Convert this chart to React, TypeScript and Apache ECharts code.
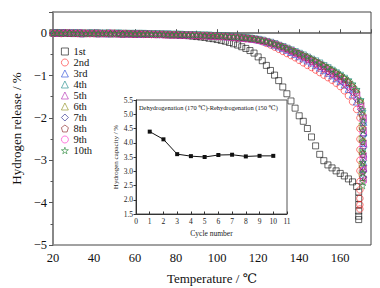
import React, { useEffect, useRef } from 'react';
import * as echarts from 'echarts';

const FONT = "'Liberation Serif', 'DejaVu Serif', serif";

const temps = [
  20, 22, 24, 26, 28, 30, 32, 34, 36, 38,
  40, 42, 44, 46, 48, 50, 52, 54, 56, 58,
  60, 62, 64, 66, 68, 70, 72, 74, 76, 78,
  80, 82, 84, 86, 88, 90, 92, 94, 96, 98,
  100, 102, 104, 106, 108, 110, 112, 114, 116, 118,
  120, 122, 124, 126, 128, 130, 132, 134, 136, 138,
  140, 142, 144, 146, 148, 150, 152, 154, 156, 158,
  160, 162, 164, 166, 168, 170,
];

const cycleNames = ['1st', '2nd', '3rd', '4th', '5th', '6th', '7th', '8th', '9th', '10th'];

const c1 = [
  0.01, 0.00, 0.01, 0.00, 0.00, -0.01, 0.00, 0.00, -0.01, 0.00,
  -0.01, 0.00, -0.01, -0.01, 0.00, -0.01, -0.01, -0.02, -0.01, -0.02,
  -0.02, -0.02, -0.02, -0.02, -0.03, -0.03, -0.03, -0.03, -0.04, -0.04,
  -0.04, -0.05, -0.05, -0.06, -0.07, -0.08, -0.09, -0.10, -0.12, -0.13,
  -0.15, -0.17, -0.19, -0.22, -0.25, -0.28, -0.32, -0.36, -0.41, -0.47,
  -0.56, -0.65, -0.76, -0.88, -0.99, -1.12, -1.27, -1.43, -1.60, -1.77,
  -1.95, -2.08, -2.25, -2.45, -2.66, -2.86, -3.01, -3.11, -3.18, -3.25,
  -3.31, -3.37, -3.44, -3.51, -3.62, null,
];
const c2 = [
  0.00, 0.00, -0.01, 0.00, 0.01, 0.00, -0.01, 0.00, 0.00, -0.01,
  -0.01, 0.00, -0.01, -0.01, -0.01, 0.00, -0.01, -0.02, -0.01, -0.02,
  -0.02, -0.01, -0.02, -0.02, -0.03, -0.02, -0.03, -0.03, -0.03, -0.04,
  -0.04, -0.04, -0.04, -0.05, -0.05, -0.05, -0.06, -0.06, -0.06, -0.07,
  -0.07, -0.08, -0.08, -0.09, -0.10, -0.11, -0.12, -0.13, -0.14, -0.15,
  -0.17, -0.20, -0.24, -0.28, -0.33, -0.38, -0.43, -0.48, -0.53, -0.58,
  -0.64, -0.70, -0.76, -0.81, -0.87, -0.93, -0.99, -1.05, -1.11, -1.18,
  -1.26, -1.36, -1.48, -1.62, -1.80, null,
];
const c3 = [
  0.01, 0.00, 0.00, 0.01, 0.00, 0.00, 0.00, -0.01, 0.00, 0.00,
  0.00, -0.01, 0.00, -0.01, -0.01, 0.00, -0.01, -0.01, -0.01, -0.01,
  -0.01, -0.02, -0.02, -0.01, -0.02, -0.02, -0.03, -0.02, -0.03, -0.03,
  -0.03, -0.04, -0.04, -0.04, -0.04, -0.05, -0.05, -0.05, -0.06, -0.06,
  -0.06, -0.07, -0.08, -0.08, -0.09, -0.10, -0.11, -0.12, -0.13, -0.14,
  -0.16, -0.18, -0.21, -0.24, -0.28, -0.32, -0.36, -0.40, -0.45, -0.50,
  -0.55, -0.60, -0.65, -0.70, -0.76, -0.82, -0.88, -0.94, -1.00, -1.07,
  -1.14, -1.22, -1.32, -1.45, -1.62, -1.85,
];
const c4 = [
  0.00, 0.01, 0.00, 0.00, 0.00, 0.01, 0.00, 0.00, -0.01, 0.00,
  0.00, 0.00, -0.01, 0.00, -0.01, -0.01, 0.00, -0.01, -0.01, -0.01,
  -0.01, -0.01, -0.01, -0.02, -0.02, -0.02, -0.02, -0.03, -0.02, -0.03,
  -0.03, -0.03, -0.04, -0.04, -0.04, -0.04, -0.05, -0.05, -0.05, -0.06,
  -0.06, -0.07, -0.07, -0.08, -0.09, -0.10, -0.10, -0.11, -0.12, -0.14,
  -0.15, -0.17, -0.20, -0.22, -0.25, -0.29, -0.32, -0.36, -0.40, -0.44,
  -0.48, -0.52, -0.57, -0.62, -0.66, -0.71, -0.77, -0.82, -0.88, -0.94,
  -1.00, -1.07, -1.15, -1.25, -1.38, -1.62,
];
const c5 = [
  0.00, 0.00, 0.01, 0.00, 0.00, 0.00, 0.01, 0.00, 0.00, -0.01,
  0.00, -0.01, -0.01, 0.00, -0.01, -0.01, -0.01, 0.00, -0.01, -0.02,
  -0.01, -0.02, -0.02, -0.02, -0.02, -0.03, -0.02, -0.03, -0.03, -0.03,
  -0.04, -0.04, -0.04, -0.04, -0.05, -0.05, -0.05, -0.06, -0.06, -0.06,
  -0.07, -0.07, -0.08, -0.09, -0.09, -0.10, -0.11, -0.12, -0.13, -0.14,
  -0.16, -0.18, -0.20, -0.23, -0.26, -0.30, -0.33, -0.37, -0.41, -0.46,
  -0.50, -0.55, -0.59, -0.64, -0.69, -0.74, -0.80, -0.85, -0.91, -0.97,
  -1.04, -1.12, -1.21, -1.32, -1.47, -1.72,
];
const c6 = [
  0.01, 0.00, 0.00, 0.00, 0.01, 0.00, 0.00, 0.00, 0.00, -0.01,
  0.00, 0.00, -0.01, -0.01, 0.00, -0.01, -0.01, -0.01, 0.00, -0.01,
  -0.01, -0.02, -0.01, -0.02, -0.02, -0.02, -0.03, -0.02, -0.03, -0.03,
  -0.03, -0.03, -0.04, -0.04, -0.04, -0.05, -0.05, -0.05, -0.05, -0.06,
  -0.06, -0.07, -0.07, -0.08, -0.09, -0.09, -0.10, -0.11, -0.12, -0.13,
  -0.15, -0.17, -0.19, -0.22, -0.25, -0.28, -0.31, -0.35, -0.39, -0.43,
  -0.47, -0.51, -0.56, -0.61, -0.65, -0.70, -0.76, -0.81, -0.87, -0.93,
  -0.99, -1.06, -1.14, -1.24, -1.37, -1.60,
];
const c7 = [
  0.00, 0.00, 0.00, 0.01, 0.00, 0.00, -0.01, 0.00, 0.00, 0.00,
  -0.01, 0.00, 0.00, -0.01, -0.01, -0.01, 0.00, -0.01, -0.02, -0.01,
  -0.02, -0.02, -0.02, -0.02, -0.03, -0.03, -0.03, -0.03, -0.03, -0.04,
  -0.04, -0.04, -0.04, -0.05, -0.05, -0.05, -0.05, -0.06, -0.06, -0.06,
  -0.07, -0.07, -0.08, -0.09, -0.09, -0.10, -0.11, -0.12, -0.13, -0.15,
  -0.16, -0.18, -0.21, -0.24, -0.27, -0.31, -0.35, -0.39, -0.44, -0.48,
  -0.53, -0.58, -0.63, -0.68, -0.74, -0.79, -0.85, -0.91, -0.97, -1.04,
  -1.11, -1.19, -1.28, -1.40, -1.56, -1.80,
];
const c8 = [
  0.00, 0.01, 0.00, 0.00, 0.00, 0.00, 0.00, -0.01, 0.00, 0.00,
  0.00, -0.01, 0.00, 0.00, -0.01, -0.01, -0.01, -0.01, -0.01, -0.01,
  -0.02, -0.01, -0.02, -0.02, -0.02, -0.03, -0.02, -0.03, -0.03, -0.03,
  -0.03, -0.04, -0.04, -0.04, -0.04, -0.05, -0.05, -0.05, -0.06, -0.06,
  -0.06, -0.07, -0.07, -0.08, -0.09, -0.10, -0.10, -0.11, -0.12, -0.13,
  -0.15, -0.17, -0.19, -0.22, -0.25, -0.28, -0.32, -0.36, -0.40, -0.44,
  -0.48, -0.53, -0.57, -0.62, -0.67, -0.72, -0.78, -0.83, -0.89, -0.95,
  -1.01, -1.08, -1.16, -1.26, -1.40, -1.65,
];
const c9 = [
  0.00, 0.00, 0.00, 0.00, 0.01, 0.00, 0.00, 0.00, -0.01, -0.01,
  0.00, -0.01, -0.01, -0.01, 0.00, -0.01, -0.02, -0.01, -0.02, -0.02,
  -0.02, -0.02, -0.03, -0.02, -0.03, -0.03, -0.03, -0.04, -0.04, -0.04,
  -0.04, -0.05, -0.05, -0.05, -0.05, -0.06, -0.06, -0.06, -0.07, -0.07,
  -0.08, -0.08, -0.09, -0.10, -0.10, -0.11, -0.12, -0.13, -0.14, -0.15,
  -0.17, -0.19, -0.21, -0.24, -0.27, -0.30, -0.34, -0.38, -0.42, -0.47,
  -0.51, -0.56, -0.61, -0.66, -0.71, -0.76, -0.82, -0.87, -0.93, -1.00,
  -1.07, -1.15, -1.24, -1.35, -1.50, -1.75,
];
const c10 = [
  0.00, 0.01, 0.00, 0.00, 0.01, 0.00, 0.00, 0.00, -0.01, 0.00,
  0.00, -0.01, 0.00, 0.00, -0.01, 0.00, -0.01, -0.01, 0.00, -0.01,
  -0.01, -0.01, -0.02, -0.01, -0.02, -0.02, -0.02, -0.02, -0.03, -0.03,
  -0.03, -0.03, -0.03, -0.04, -0.04, -0.04, -0.04, -0.05, -0.05, -0.05,
  -0.06, -0.06, -0.07, -0.08, -0.08, -0.09, -0.10, -0.11, -0.12, -0.13,
  -0.15, -0.17, -0.19, -0.22, -0.25, -0.28, -0.31, -0.35, -0.39, -0.43,
  -0.47, -0.51, -0.55, -0.60, -0.65, -0.70, -0.75, -0.80, -0.85, -0.91,
  -0.97, -1.04, -1.11, -1.20, -1.33, -1.58,
];

// final near-vertical drop of each cycle, at its end temperature
const tailTemps = [169, 169.6, 171.4, 171, 171.2, 170.8, 171.3, 170.9, 171.1, 171];
const t1 = [-3.75, -3.9, -4.05, -4.2, -4.32, -4.4];
const t2 = [-2.0, -2.25, -2.5, -2.75, -3.0, -3.25, -3.5, -3.7, -3.9, -4.05, -4.15];
const t3 = [-2.1, -2.35, -2.6, -2.85, -3.05, -3.2];
const t4 = [-1.9, -2.2, -2.5, -2.8, -3.1, -3.35];
const t5 = [-2.0, -2.3, -2.6, -2.9, -3.2, -3.45];
const t6 = [-1.9, -2.2, -2.5, -2.8, -3.1, -3.3];
const t7 = [-2.1, -2.4, -2.7, -3.0, -3.25, -3.4];
const t8 = [-1.95, -2.25, -2.55, -2.85, -3.15, -3.4];
const t9 = [-2.05, -2.35, -2.65, -2.95, -3.25, -3.5];
const t10 = [-1.8, -2.05, -2.3, -2.55, -2.8, -3.05, -3.3, -3.5, -3.6];

const cycleValues = [c1, c2, c3, c4, c5, c6, c7, c8, c9, c10];
const cycleTails = [t1, t2, t3, t4, t5, t6, t7, t8, t9, t10];

const colors = ['#111111', '#ff2a2a', '#2a4bd7', '#1f8a8a', '#b42db4', '#8f8f1f', '#222288', '#8b2222', '#ff2fc8', '#2e8b3e'];
const STAR = 'path://M50,0 L61,35 L98,35 L68,57 L79,91 L50,70 L21,91 L32,57 L2,35 L39,35 Z';
const PENTA = 'path://M50,0 L98,36 L80,95 L20,95 L2,36 Z';
const symbols = ['rect', 'circle', 'triangle', 'triangle', 'triangle', 'triangle', 'diamond', PENTA, 'circle', STAR];
const rotations = [0, 0, 0, 180, 90, -90, 0, 0, 0, 0];

const insetCycles = [1, 2, 3, 4, 5, 6, 7, 8, 9, 10];
const insetCapacity = [4.39, 4.12, 3.6, 3.53, 3.5, 3.57, 3.58, 3.52, 3.54, 3.54];

const minus = (v: number) => String(v).replace('-', '\u2212');

export default function App() {
  const ref = useRef<HTMLDivElement>(null);
  useEffect(() => {
    const chart = echarts.init(ref.current!, null, { renderer: 'svg' });
    const mainSeries = cycleNames.map((name, k) => {
      const pts: number[][] = [];
      cycleValues[k].forEach((v, i) => {
        if (v !== null) pts.push([temps[i], v as number]);
      });
      cycleTails[k].forEach((v) => pts.push([tailTemps[k], v]));
      return {
        name,
        type: 'scatter',
        xAxisIndex: 0,
        yAxisIndex: 0,
        data: pts,
        symbol: symbols[k],
        symbolRotate: rotations[k],
        symbolSize: k === 0 ? 6 : 6.5,
        itemStyle: { color: 'rgba(255,255,255,0)', borderColor: colors[k], borderWidth: 0.8 },
        z: 2 + k,
      };
    });
    const lbl = { fontFamily: FONT, fontWeight: 'normal', color: '#111' };
    const option: any = {
      animation: false,
      backgroundColor: '#fff',
      textStyle: { fontFamily: FONT, fontWeight: 'normal' },
      grid: [
        { left: 53, right: 9, top: 12, bottom: 43, show: true, borderColor: '#444', borderWidth: 1, containLabel: false, outerBoundsMode: 'none' },
        { left: 136, top: 100, width: 151, height: 114, show: true, borderColor: '#555', borderWidth: 1, backgroundColor: '#fff', containLabel: false, outerBoundsMode: 'none', z: 20 },
      ],
      legend: {
        orient: 'vertical',
        left: 61,
        top: 46,
        padding: 0,
        itemWidth: 7,
        itemHeight: 7,
        itemGap: 0,
        data: cycleNames,
        itemStyle: { borderWidth: 0.8 },
        textStyle: { ...lbl, fontSize: 10.5, lineHeight: 11 },
      },
      xAxis: [
        {
          type: 'value', gridIndex: 0, min: 20, max: 175, interval: 20,
          axisLine: { lineStyle: { color: '#555', width: 1.5 } },
          axisTick: { inside: true, length: 4, lineStyle: { color: '#555' } },
          minorTick: { show: true, splitNumber: 2, length: 2.5, lineStyle: { color: '#555' } },
          splitLine: { show: false },
          axisLabel: { ...lbl, fontSize: 12.5, margin: 6, showMaxLabel: false },
          name: 'Temperature / \u2103', nameLocation: 'middle', nameGap: 27,
          nameTextStyle: { ...lbl, fontSize: 13 },
        },
        {
          type: 'value', gridIndex: 1, min: 0, max: 11, interval: 1,
          axisLine: { lineStyle: { color: '#333', width: 1 } },
          axisTick: { inside: true, length: 2.5, lineStyle: { color: '#333' } },
          splitLine: { show: false },
          axisLabel: { ...lbl, fontSize: 7.5, color: '#222', margin: 3 },
          name: 'Cycle number', nameLocation: 'middle', nameGap: 15,
          nameTextStyle: { ...lbl, fontSize: 7.5, color: '#222' },
          z: 21,
        },
      ],
      yAxis: [
        {
          type: 'value', gridIndex: 0, min: -5, max: 0.5, interval: 1,
          axisLine: { lineStyle: { color: '#888', width: 2 } },
          axisTick: { inside: false, length: 4, lineStyle: { color: '#555' } },
          minorTick: { show: true, splitNumber: 2, length: 2.5, lineStyle: { color: '#555' } },
          splitLine: { show: false },
          axisLabel: { ...lbl, fontSize: 12.5, margin: 6, showMaxLabel: false, formatter: (v: number) => minus(v) },
          name: 'Hydrogen release / %', nameLocation: 'middle', nameGap: 30,
          nameTextStyle: { ...lbl, fontSize: 13 },
        },
        {
          type: 'value', gridIndex: 1, min: 1.5, max: 5.5, interval: 0.5,
          axisLine: { lineStyle: { color: '#333', width: 1 } },
          axisTick: { inside: false, length: 2.5, lineStyle: { color: '#333' } },
          splitLine: { show: false },
          axisLabel: { ...lbl, fontSize: 7.5, color: '#222', margin: 3, formatter: (v: number) => v.toFixed(1) },
          name: 'Hydrogen capacity / %', nameLocation: 'middle', nameGap: 17,
          nameTextStyle: { ...lbl, fontSize: 7, color: '#222' },
          z: 21,
        },
      ],
      graphic: [
        {
          type: 'text', left: 139, top: 104, z: 100,
          style: { text: 'Dehydrogenation (170 \u2103)-Rehydrogenation (150 \u2103)', fontFamily: FONT, fontSize: 6.4, fill: '#111' },
        },
      ],
      series: [
        ...mainSeries,
        {
          name: 'capacity',
          type: 'line',
          xAxisIndex: 1,
          yAxisIndex: 1,
          data: insetCycles.map((c, i) => [c, insetCapacity[i]]),
          symbol: 'rect',
          symbolSize: 4,
          itemStyle: { color: '#111' },
          lineStyle: { color: '#111', width: 1 },
          z: 30,
        },
      ],
    };
    chart.setOption(option);
    return () => chart.dispose();
  }, []);
  return <div ref={ref} style={{ position: 'absolute', left: 0, top: 0, width: 380, height: 288 }} />;
}
